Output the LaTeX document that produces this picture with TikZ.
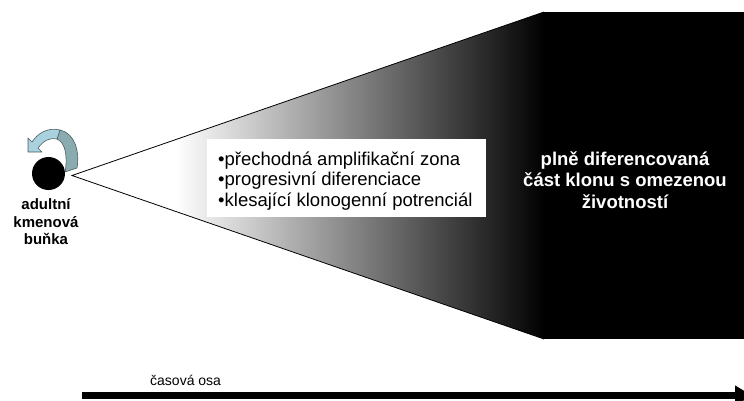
\documentclass[tikz,border=0pt]{standalone}
\usepackage{fontspec}
\setmainfont{Liberation Sans}
\usetikzlibrary{arrows.meta}
\definecolor{ribbonlight}{HTML}{A9D2DE}
\definecolor{ribbondark}{HTML}{8AACB0}
\definecolor{ribbonedge}{HTML}{4A5A5E}
\begin{document}
\begin{tikzpicture}[x=1pt,y=-1pt,
  stemtext/.style={font=\bfseries\fontsize{15}{17.5}\selectfont, align=center, inner sep=0pt},
  zonetext/.style={font=\fontsize{18.5}{20.7}\selectfont, align=left, inner sep=0pt},
  maturetext/.style={font=\bfseries\fontsize{18.5}{21.5}\selectfont, align=center, inner sep=0pt, text=white},
  ribbon/.style={draw=ribbonedge, line width=0.6pt, line join=round},
  edge/.style={draw=black, line width=0.8pt}]
\useasboundingbox (0,0) rectangle (744,400);
\clip (0,0) rectangle (744,400);

% widening clone: shaded wedge from the stem cell to the mature block
\coordinate (apex) at (72,175.5);
\coordinate (ftop) at (544,12);
\coordinate (fbot) at (544,339);
\begin{scope}
  \clip (apex) -- (ftop) -- (fbot) -- cycle;
  \shade[left color=white, right color=black] (175,0) rectangle (545,400);
\end{scope}
\draw[edge] (ftop) -- (apex) -- (fbot);

% fully differentiated part of the clone
\node (mature) [fill=black, minimum width=200pt, minimum height=327pt,
  anchor=north west, inner sep=0pt] at (544,12) {};
\node (maturelabel) [maturetext] at (625,180)
  {plně diferencovaná\\část klonu s omezenou\\životností};

% transit amplifying zone description
\node (zone) [fill=white, minimum width=279pt, minimum height=78pt,
  anchor=north west, inner sep=0pt] at (207,139) {};
\node (zonelabel) [zonetext, anchor=west] at (218,181)
  {•přechodná amplifikační zona\\•progresivní diferenciace\\•klesající klonogenní potrenciál};

% adult stem cell with self-renewal arrow
\node (stem) [circle, fill=black, minimum size=33pt, inner sep=0pt] at (48.5,173.5) {};
\fill[ribbondark, ribbon] (60,130) .. controls (74,133) and (80,150) .. (77,168)
  -- (65,172) .. controls (68,156) and (65,142) .. (57,139) -- cycle;
\fill[ribbonlight, ribbon] (60,130) .. controls (48,127) and (38,133) .. (32,142)
  -- (28,138) -- (28,152) -- (42,152) -- (38,148)
  .. controls (43,141) and (50,137) .. (57,139) -- cycle;
\node (stemlabel) [stemtext] at (46,222) {adultní\\kmenová\\buňka};

% time axis
\coordinate (tstart) at (82,395.5);
\coordinate (tend) at (752,395.5);
\draw[line width=7pt, -{Triangle[length=17pt,width=19pt]}] (tstart) -- (tend);
\node (axislabel) [anchor=base west, inner sep=0pt, font=\fontsize{14}{16}\selectfont]
  at (150,385) {časová osa};
\end{tikzpicture}
\end{document}
